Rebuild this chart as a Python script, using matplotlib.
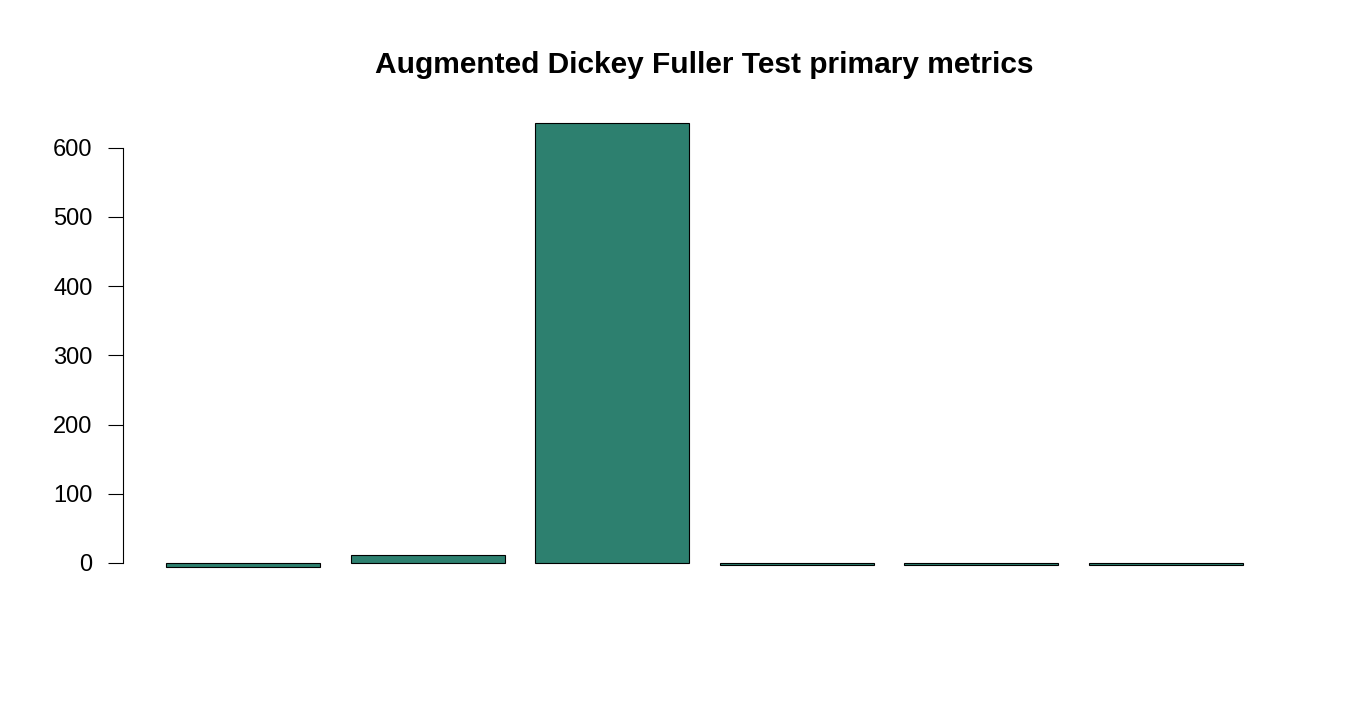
import matplotlib
matplotlib.use("Agg")
import matplotlib.pyplot as plt

plt.rcParams['font.family'] = ['Liberation Sans', 'DejaVu Sans']

metrics = ["ADF statistic", "Lags used", "Observations", "Critical 1%", "Critical 5%", "Critical 10%"]
values = [-5.2, 12, 636, -3.44, -2.87, -2.57]
yticks = [0, 100, 200, 300, 400, 500, 600]
title = "Augmented Dickey Fuller Test primary metrics"
bar_color = "#2D806F"

fig = plt.figure(figsize=(13.5, 7.2), dpi=100)
ax = fig.add_axes([123/1350, 0.1885, (1286-123)/1350, 0.854-0.1885])

width = 1.0
space = 0.2
lefts = [space + i * (width + space) for i in range(len(values))]
ax.bar(lefts, values, width=width, align='edge', color=bar_color,
       edgecolor='black', linewidth=0.8)

lo = min(lefts)
hi = max(lefts) + width
pad = 0.04 * (hi - lo)
ax.set_xlim(lo - pad, hi + pad)
vmin, vmax = min(min(values), 0), max(values)
ypad = 0.04 * (vmax - vmin)
ax.set_ylim(vmin - ypad, vmax + ypad)

for s in ['top', 'right', 'bottom']:
    ax.spines[s].set_visible(False)
ax.spines['left'].set_bounds(yticks[0], yticks[-1])
ax.spines['left'].set_linewidth(0.8)
ax.set_xticks([])
ax.set_yticks(yticks)
ax.set_yticklabels([str(t) for t in yticks])
ax.tick_params(axis='y', length=10.8, width=0.8, labelsize=17, pad=11)

fig.text(704.5/1350, 1 - 65/720, title, ha='center', va='center',
         fontsize=21.5, fontweight='bold')

fig.savefig("out.png", dpi=100)
